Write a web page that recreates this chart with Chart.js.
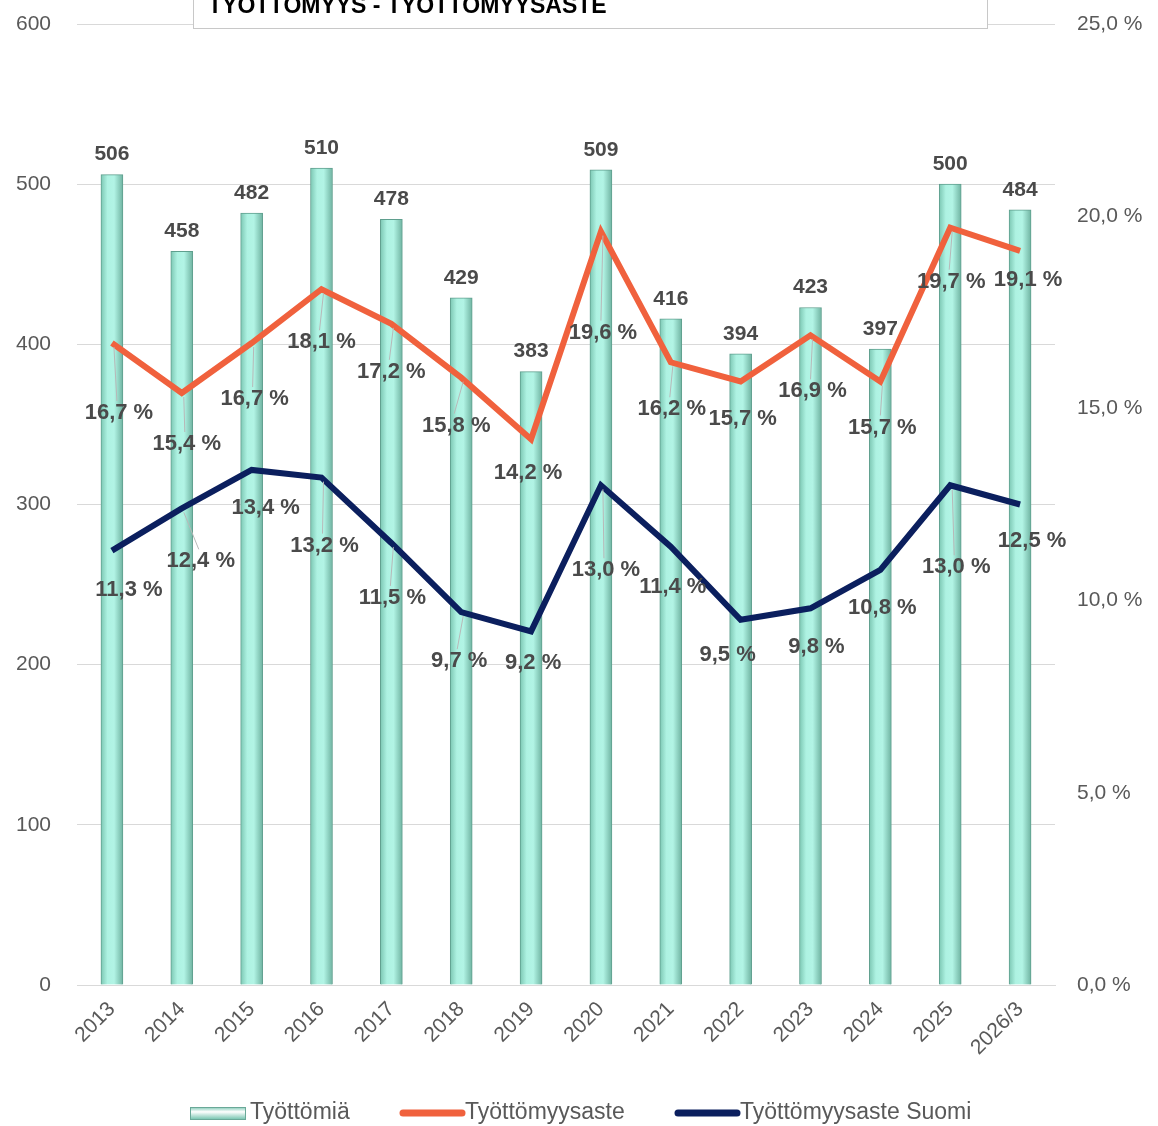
<!DOCTYPE html>
<html>
<head>
    <title>Työttömyys - työttömyysaste</title>
    <script src="https://cdn.jsdelivr.net/npm/chart.js@4.4.1/dist/chart.umd.min.js"></script>
    <style>
        body { margin: 0; padding: 0; background: #fff; overflow: hidden; }
        #wrap { width: 1158px; height: 1126px; position: relative; }
    </style>
</head>
<body>
<div id="wrap"><canvas id="myChart" width="1158" height="1126"></canvas></div>
<script>
// datos
const vuodet = ['2013', '2014', '2015', '2016', '2017', '2018', '2019', '2020', '2021', '2022', '2023', '2024', '2025', '2026/3'];
const tyottomia = [506, 458, 482, 510, 478, 429, 383, 509, 416, 394, 423, 397, 500, 484];
const tyottomyysaste = [16.7, 15.4, 16.7, 18.1, 17.2, 15.8, 14.2, 19.6, 16.2, 15.7, 16.9, 15.7, 19.7, 19.1];
const tyottomyysasteSuomi = [11.3, 12.4, 13.4, 13.2, 11.5, 9.7, 9.2, 13.0, 11.4, 9.5, 9.8, 10.8, 13.0, 12.5];

// label placement (offset from the point, px)
const offsOrange = [[7,70],[5,51],[3,56],[0,53],[0,48],[-5,48],[-3,34],[2,101],[1,47],[2,37],[2,56],[2,46],[1,54],[8,29]];
const offsNavy = [[17,39],[19,53],[14,38],[3,68],[1,55],[-2,49],[2,32],[5,85],[2,40],[-13,35],[6,39],[2,38],[6,82],[12,36]];

const FONT = '"Liberation Sans", Arial, sans-serif';
const GREY = '#595959';

function barGradient(c) {
    const chart = c.chart;
    if (c.type !== 'data' || !chart.scales || !chart.scales.x) return '#a8eedd';
    const x = chart.scales.x.getPixelForValue(c.dataIndex);
    if (!isFinite(x)) return '#a8eedd';
    const g = chart.ctx.createLinearGradient(x - 11, 0, x + 11, 0);
    g.addColorStop(0, '#7cc7b3');
    g.addColorStop(0.3, '#aef2e2');
    g.addColorStop(0.6, '#b2f4e5');
    g.addColorStop(1, '#6fb3a1');
    return g;
}

function noPad(s) {
    s.paddingTop = 0;
    s.paddingBottom = 0;
}

const labelsPlugin = {
    id: 'labelsPlugin',
    afterDatasetsDraw(chart) {
        const ctx = chart.ctx;
        ctx.save();
        ctx.font = 'bold 21px ' + FONT;
        ctx.fillStyle = '#4a4a4a';
        ctx.textAlign = 'center';
        ctx.textBaseline = 'middle';
        // bar labels
        chart.getDatasetMeta(0).data.forEach((el, i) => {
            ctx.fillText(String(tyottomia[i]), el.x, el.y - 20);
        });
        // line labels
        ctx.font = 'bold 22px ' + FONT;
        const doLine = (idx, vals, offs) => {
            chart.getDatasetMeta(idx).data.forEach((el, i) => {
                const lx = el.x + offs[i][0], ly = el.y + offs[i][1];
                if (offs[i][1] > 44) {
                    ctx.strokeStyle = '#b8b8b8';
                    ctx.lineWidth = 1;
                    ctx.beginPath();
                    ctx.moveTo(el.x + 2, el.y + 4);
                    ctx.lineTo(lx - 2, ly - 12);
                    ctx.stroke();
                }
                ctx.fillText(vals[i].toFixed(1).replace('.', ',') + ' %', lx, ly);
            });
        };
        doLine(1, tyottomyysaste, offsOrange);
        doLine(2, tyottomyysasteSuomi, offsNavy);
        ctx.restore();
    },
    afterDraw(chart) {
        const ctx = chart.ctx;
        ctx.save();
        // title box
        ctx.fillStyle = '#fff';
        ctx.fillRect(193, -5, 794, 33);
        ctx.strokeStyle = '#c8c8c8';
        ctx.lineWidth = 1;
        ctx.strokeRect(193.5, -5, 794, 33.5);
        ctx.fillStyle = '#000';
        ctx.font = 'bold 23px "Liberation Sans Narrow", "Liberation Sans", Arial, sans-serif';
        ctx.textBaseline = 'alphabetic';
        ctx.textAlign = 'left';
        ctx.fillText('TYÖTTÖMYYS - TYÖTTÖMYYSASTE', 208, 13);
        // legend
        const ly = 1113;
        ctx.font = '23px ' + FONT;
        ctx.textBaseline = 'middle';
        const g = ctx.createLinearGradient(0, ly - 6, 0, ly + 6);
        g.addColorStop(0, '#7cc7b3');
        g.addColorStop(0.4, '#ffffff');
        g.addColorStop(1, '#7cc7b3');
        ctx.fillStyle = g;
        ctx.fillRect(190, ly - 6, 55, 12);
        ctx.strokeStyle = '#6aa898';
        ctx.strokeRect(190.5, ly - 5.5, 55, 12);
        ctx.fillStyle = GREY;
        ctx.fillText('Työttömiä', 250, ly);
        ctx.lineCap = 'round';
        ctx.lineWidth = 7;
        ctx.strokeStyle = '#f0613d';
        ctx.beginPath(); ctx.moveTo(403, ly); ctx.lineTo(462, ly); ctx.stroke();
        ctx.fillText('Työttömyysaste', 465, ly);
        ctx.strokeStyle = '#0b1f5e';
        ctx.beginPath(); ctx.moveTo(678, ly); ctx.lineTo(737, ly); ctx.stroke();
        ctx.fillText('Työttömyysaste Suomi', 740, ly);
        ctx.restore();
    }
};

const ctx = document.getElementById('myChart').getContext('2d');
const myChart = new Chart(ctx, {
    data: {
        labels: vuodet,
        datasets: [
            {
                type: 'bar',
                label: 'Työttömiä',
                data: tyottomia,
                yAxisID: 'y',
                backgroundColor: barGradient,
                borderColor: '#5f9f8e',
                borderWidth: 1,
                barThickness: 22,
                order: 3
            },
            {
                type: 'line',
                label: 'Työttömyysaste',
                data: tyottomyysaste,
                yAxisID: 'y1',
                borderColor: '#f0613d',
                borderWidth: 6,
                pointRadius: 0,
                tension: 0,
                order: 1
            },
            {
                type: 'line',
                label: 'Työttömyysaste Suomi',
                data: tyottomyysasteSuomi,
                yAxisID: 'y1',
                borderColor: '#0b1f5e',
                borderWidth: 6,
                pointRadius: 0,
                tension: 0,
                order: 2
            }
        ]
    },
    options: {
        responsive: false,
        animation: false,
        layout: { padding: { top: 24, left: 0, right: 0, bottom: 0 } },
        plugins: {
            legend: { display: false },
            tooltip: { enabled: false },
            title: { display: false }
        },
        scales: {
            x: {
                grid: { display: false },
                border: { display: true, color: '#d9d9d9', width: 1 },
                ticks: {
                    color: GREY,
                    font: { family: FONT, size: 21 },
                    minRotation: 45,
                    maxRotation: 45,
                    padding: 4
                },
                afterFit(s) { s.height = 141; s.paddingLeft = 0; s.paddingRight = 0; }
            },
            y: {
                position: 'left',
                min: 0,
                max: 600,
                ticks: {
                    stepSize: 100,
                    color: GREY,
                    font: { family: FONT, size: 21 },
                    padding: 26
                },
                grid: { color: '#d9d9d9', lineWidth: 1, drawTicks: false },
                border: { display: false },
                afterFit(s) { s.width = 77; noPad(s); }
            },
            y1: {
                position: 'right',
                min: 0,
                max: 25,
                ticks: {
                    stepSize: 5,
                    color: GREY,
                    font: { family: FONT, size: 21 },
                    padding: 22,
                    callback: v => v.toFixed(1).replace('.', ',') + ' %'
                },
                grid: { display: false, drawTicks: false },
                border: { display: false },
                afterFit(s) { s.width = 103; noPad(s); }
            }
        }
    },
    plugins: [labelsPlugin]
});
</script>
</body>
</html>
